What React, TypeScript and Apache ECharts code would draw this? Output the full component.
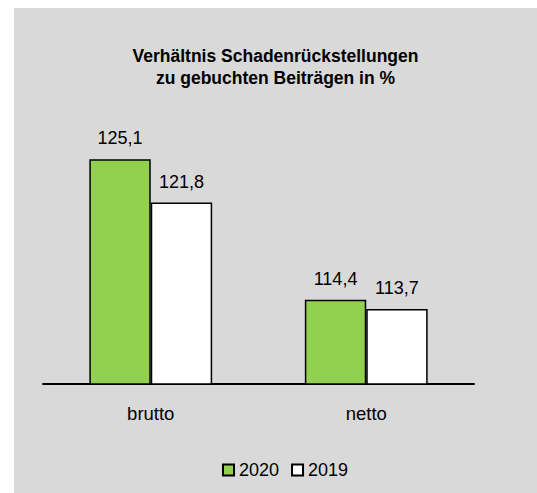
import React, { useEffect, useRef } from "react";
import * as echarts from "echarts";

const categories = ["brutto", "netto"];
const seriesNames = ["2020", "2019"];
const values2020 = [125.1, 114.4];
const values2019 = [121.8, 113.7];
const titleLines = ["Verhältnis Schadenrückstellungen", "zu gebuchten Beiträgen in %"];

const SANS = "'Liberation Sans', Arial, sans-serif";

export default function App() {
  const ref = useRef<HTMLDivElement>(null);
  useEffect(() => {
    if (!ref.current) return;
    const chart = echarts.init(ref.current, undefined, { renderer: "svg" });
    const fmt = (p: any) => Number(p.value).toFixed(1).replace(".", ",");
    const labelStyle = {
      show: true,
      position: "top",
      distance: 12,
      formatter: fmt,
      fontFamily: SANS,
      fontSize: 18,
      color: "#000",
    };
    chart.setOption({
      animation: false,
      backgroundColor: "#d9d9d9",
      title: {
        text: titleLines.join("\n"),
        left: "center",
        top: 32,
        textStyle: {
          fontFamily: SANS,
          fontSize: 17.5,
          fontWeight: "bold",
          color: "#000",
          lineHeight: 22,
        },
      },
      legend: {
        data: seriesNames,
        left: 208,
        top: 453,
        padding: 0,
        itemWidth: 11,
        itemHeight: 11,
        itemGap: 12,
        icon: "rect",
        textStyle: { fontFamily: SANS, fontSize: 18, color: "#000" },
      },
      grid: { left: 29, right: 63, top: 139.3, bottom: 109, containLabel: false },
      xAxis: {
        type: "category",
        data: categories,
        axisLine: { show: true, lineStyle: { color: "#000", width: 2 } },
        axisTick: { show: false },
        axisLabel: { fontFamily: SANS, fontSize: 18.5, color: "#000", margin: 20 },
      },
      yAxis: {
        type: "value",
        min: 108,
        max: 126,
        show: false,
        splitLine: { show: false },
      },
      series: [
        {
          name: seriesNames[0],
          type: "bar",
          data: values2020,
          barGap: "0%",
          barCategoryGap: "43%",
          itemStyle: { color: "#92d050", borderColor: "#000", borderWidth: 1.5 },
          label: labelStyle,
        },
        {
          name: seriesNames[1],
          type: "bar",
          data: values2019,
          barGap: "0%",
          barCategoryGap: "43%",
          itemStyle: { color: "#ffffff", borderColor: "#000", borderWidth: 1.5 },
          label: labelStyle,
        },
      ],
    });
    return () => chart.dispose();
  }, []);
  return (
    <div style={{ position: "absolute", left: 0, top: 0, width: 537, height: 493, background: "#fff" }}>
      <div
        ref={ref}
        style={{ position: "absolute", left: 14, top: 8, width: 523, height: 485 }}
      />
    </div>
  );
}
